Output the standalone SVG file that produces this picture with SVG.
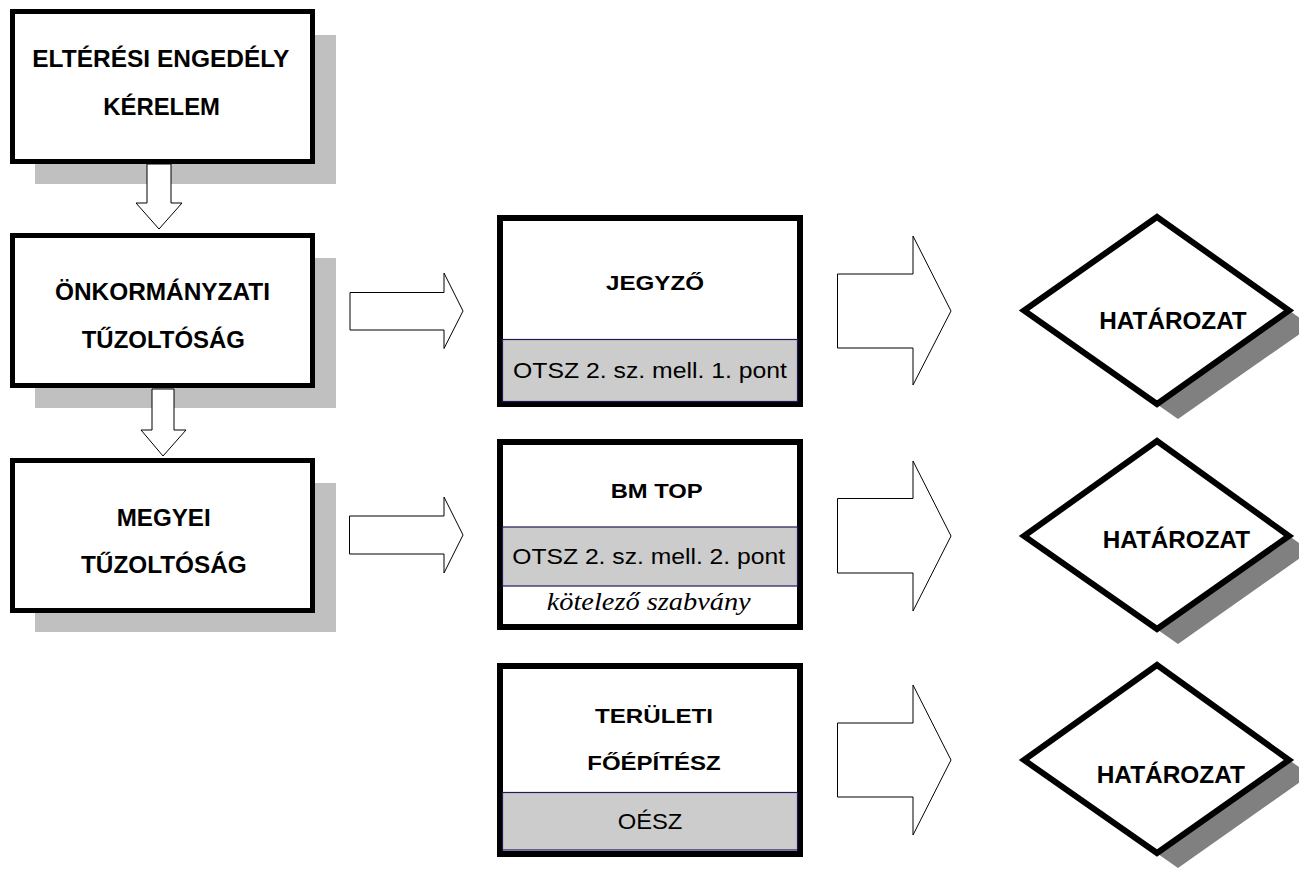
<svg xmlns="http://www.w3.org/2000/svg" width="1299" height="874" viewBox="0 0 1299 874">
<style>
.bg{fill:#ffffff}
.shadow{fill:#c0c0c0}
.dshadow{fill:#808080}
.box{fill:#ffffff;stroke:#000000;stroke-width:5}
.mbox{fill:#ffffff;stroke:#000000;stroke-width:6}
.band{fill:#cccccc;stroke:#1f1a5c;stroke-width:1.2}
.dia{fill:#ffffff;stroke:#000000;stroke-width:6;stroke-linejoin:miter}
.arrow{fill:#ffffff;stroke:#000000;stroke-width:1}
.tb{font-family:"Liberation Sans",Arial,sans-serif;font-weight:bold;font-size:23.5px;fill:#000000}
.tm{font-family:"Liberation Sans",Arial,sans-serif;font-weight:bold;font-size:21px;fill:#000000}
.tr{font-family:"Liberation Sans",Arial,sans-serif;font-size:22px;fill:#000000}
.ti{font-family:"Liberation Serif","Times New Roman",serif;font-style:italic;font-size:25px;fill:#000000}
</style>
<rect class="bg" x="0" y="0" width="1299" height="874"/>

<g id="node-kerelem">
<rect class="shadow" x="35" y="35" width="301" height="149"/>
<rect class="box" x="12.5" y="11.5" width="300" height="150"/>
<text class="tb" x="32.3" y="67" textLength="257" lengthAdjust="spacingAndGlyphs">ELTÉRÉSI ENGEDÉLY</text>
<text class="tb" x="103.3" y="115" textLength="116.7" lengthAdjust="spacingAndGlyphs">KÉRELEM</text>
</g>

<g id="node-onkormanyzati">
<rect class="shadow" x="35" y="258" width="301" height="150"/>
<rect class="box" x="12.5" y="235.5" width="300" height="150"/>
<text class="tb" x="55" y="300" textLength="215" lengthAdjust="spacingAndGlyphs">ÖNKORMÁNYZATI</text>
<text class="tb" x="81.7" y="348" textLength="163.3" lengthAdjust="spacingAndGlyphs">TŰZOLTÓSÁG</text>
</g>

<g id="node-megyei">
<rect class="shadow" x="35" y="483" width="301" height="149"/>
<rect class="box" x="12.5" y="460.5" width="300" height="150"/>
<text class="tb" x="116.7" y="526" textLength="94" lengthAdjust="spacingAndGlyphs">MEGYEI</text>
<text class="tb" x="81" y="573" textLength="165.7" lengthAdjust="spacingAndGlyphs">TŰZOLTÓSÁG</text>
</g>

<g id="node-jegyzo">
<rect class="mbox" x="500" y="218" width="300" height="186"/>
<rect class="band" x="502.5" y="339.5" width="295" height="62"/>
<text class="tm" x="606" y="290" textLength="98" lengthAdjust="spacingAndGlyphs">JEGYZŐ</text>
<text class="tr" x="513" y="378" textLength="274" lengthAdjust="spacingAndGlyphs">OTSZ 2. sz. mell. 1. pont</text>
</g>

<g id="node-bmtop">
<rect class="mbox" x="500" y="442" width="300" height="185"/>
<rect class="band" x="502.5" y="527" width="295" height="59"/>
<text class="tm" x="610.7" y="498" textLength="92" lengthAdjust="spacingAndGlyphs">BM TOP</text>
<text class="tr" x="512.3" y="564.3" textLength="272.7" lengthAdjust="spacingAndGlyphs">OTSZ 2. sz. mell. 2. pont</text>
<text class="ti" x="546.7" y="610" textLength="204" lengthAdjust="spacingAndGlyphs">kötelező szabvány</text>
</g>

<g id="node-foepitesz">
<rect class="mbox" x="500" y="666" width="300" height="188"/>
<rect class="band" x="502.5" y="792.5" width="295" height="57.5"/>
<text class="tm" x="595" y="722.7" textLength="118" lengthAdjust="spacingAndGlyphs">TERÜLETI</text>
<text class="tm" x="587.3" y="770" textLength="133.3" lengthAdjust="spacingAndGlyphs">FŐÉPÍTÉSZ</text>
<text class="tr" x="617.7" y="829.3" textLength="64.7" lengthAdjust="spacingAndGlyphs">OÉSZ</text>
</g>

<g id="node-hatarozat-1">
<polygon class="dshadow" points="1178,232 1311,326 1178,419 1045,326"/>
<polygon class="dia" points="1157,217 1289,310.5 1157,404 1024,310.5"/>
<text class="tb" x="1099.3" y="329.3" textLength="147.4" lengthAdjust="spacingAndGlyphs">HATÁROZAT</text>
</g>

<g id="node-hatarozat-2">
<polygon class="dshadow" points="1178,456 1310,551 1178,644 1045,551"/>
<polygon class="dia" points="1157,441 1289,536 1157,629 1024,536"/>
<text class="tb" x="1102.7" y="548.3" textLength="147.3" lengthAdjust="spacingAndGlyphs">HATÁROZAT</text>
</g>

<g id="node-hatarozat-3">
<polygon class="dshadow" points="1178,680 1310,775 1178,868 1045,775"/>
<polygon class="dia" points="1157,665 1289,760 1157,853 1024,760"/>
<text class="tb" x="1096.7" y="783.3" textLength="148.3" lengthAdjust="spacingAndGlyphs">HATÁROZAT</text>
</g>

<g id="connectors">
<polygon class="arrow" points="147,164 171,164 171,203 182,203 159,229 136,203 147,203"/>
<polygon class="arrow" points="152,389 174,389 174,430 186,430 163,456 141,430 152,430"/>
<polygon class="arrow" points="350,292.5 444,292.5 444,273 463,311 444,348.5 444,330 350,330"/>
<polygon class="arrow" points="349.5,516 444,516 444,497 463,535 444,573 444,554 349.5,554"/>
<polygon class="arrow" points="837.5,274 913,274 913,236 951,311 913,385 913,348 837.5,348"/>
<polygon class="arrow" points="837.5,498.5 913,498.5 913,461 951,536 913,611 913,573 837.5,573"/>
<polygon class="arrow" points="837.5,723 913,723 913,685 951,760 913,835 913,797 837.5,797"/>
</g>
</svg>
